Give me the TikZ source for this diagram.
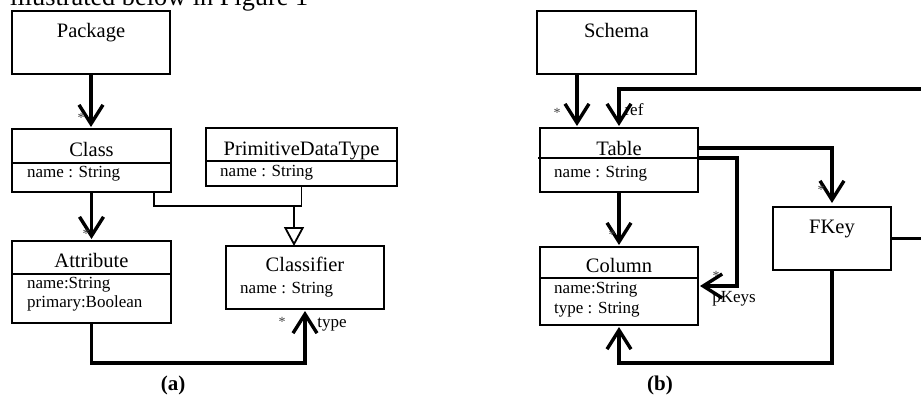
\documentclass[tikz,border=0pt]{standalone}
\usepackage{fontspec}
\setmainfont{Liberation Serif}
\usetikzlibrary{arrows.meta,calc}

% rectangle box given by its corners: name, x1, y1, x2, y2
\newcommand{\umlbox}[5]{%
  \node[box, minimum width={#4-#2}, minimum height={#5-#3}] (#1) at ({(#2+#4)/2},{(#3+#5)/2}) {};}

\begin{document}
\begin{tikzpicture}[x=1pt,y=-1pt,
  box/.style={draw,line width=1.6pt,inner sep=0pt,outer sep=0pt},
  divider/.style={line width=1.6pt},
  title/.style={inner sep=0pt,anchor=base,font=\fontsize{20.5}{24}\selectfont},
  attr/.style={inner sep=0pt,anchor=base west,font=\fontsize{17}{20}\selectfont},
  lbl/.style={inner sep=0pt,anchor=base,font=\fontsize{17}{20}\selectfont},
  mult/.style={inner sep=0pt,font=\fontsize{14}{16}\selectfont,text=black!75},
  subcap/.style={inner sep=0pt,anchor=base,font=\bfseries\fontsize{21}{24}\selectfont},
  assoc/.style={line width=3.4pt,-{Straight Barb[length=19pt,width=24pt]},shorten >=2pt},
  gen/.style={line width=1.8pt},
  gentip/.style={line width=1.8pt,-{Triangle[open,length=19pt,width=20pt,fill=white]}}]

\useasboundingbox (0,0) rectangle (921,394);
\clip (0,0) rectangle (921,394);

% running text above the figure
\node[anchor=base west,inner sep=0pt,font=\fontsize{26.3}{30}\selectfont] (intro) at (10,5.5) {illustrated below in Figure 1};

% ---------------- (a) ----------------
\umlbox{pkg}{12}{11}{170}{74}
\node[title] (pkgT) at (91,37) {Package};

\umlbox{cls}{12}{129}{171}{192}
\node[title] (clsT) at (91.5,156) {Class};
\draw[divider] (cls.west |- 0,163) -- (cls.east |- 0,163);
\node[attr] (clsA) at (27,177) {name : String};

\umlbox{pdt}{206}{128}{397}{186}
\node[title] (pdtT) at (301.5,155) {PrimitiveDataType};
\draw[divider] (pdt.west |- 0,161) -- (pdt.east |- 0,161);
\node[attr] (pdtA) at (220,176) {name : String};

\umlbox{attrb}{12}{241}{171}{323}
\node[title] (attrT) at (91.5,267) {Attribute};
\draw[divider] (attrb.west |- 0,274) -- (attrb.east |- 0,274);
\node[attr] (attrA1) at (27,288) {name:String};
\node[attr] (attrA2) at (27,307) {primary:Boolean};

\umlbox{clf}{226}{246}{384}{309}
\node[title] (clfT) at (305,271) {Classifier};
\node[attr] (clfA) at (240,293) {name : String};

% associations
\draw[assoc] (pkg.south) -- (pkg.south |- cls.north);
\node[mult] (m1) at (81,118) {*};
\draw[assoc] (cls.south) -- (cls.south |- attrb.north);
\node[mult] (m2) at (86,234) {*};
\draw[assoc] (attrb.south) -- ++(0,40) -| (clf.south);
\node[mult] (m3) at (282,322) {*};
\node[lbl] (typeL) at (332,327) {type};

% generalization
\coordinate (g1) at ($(cls.south west)+(142,0)$);
\coordinate (gj) at (294,206);
\draw[gen] (g1) |- (pdt.south |- gj) -- (pdt.south);
\draw[gentip] (gj) -- (gj |- clf.north);

\node[subcap] (capA) at (173,390) {(a)};

% ---------------- (b) ----------------
\umlbox{sch}{537}{11}{696}{74}
\node[title] (schT) at (616.5,37) {Schema};

\umlbox{tbl}{540}{128}{698}{192}
\node[title] (tblT) at (619,155) {Table};
\draw[divider] (538,158) -- (tbl.east |- 0,158);
\node[attr] (tblA) at (554,177) {name : String};

\umlbox{col}{540}{247}{698}{325}
\node[title] (colT) at (619,272) {Column};
\draw[divider] (col.west |- 0,278) -- (col.east |- 0,278);
\node[attr] (colA1) at (554,293) {name:String};
\node[attr] (colA2) at (554,313) {type : String};

\umlbox{fk}{773}{207}{891}{270}
\node[title] (fkT) at (832,233) {FKey};

% associations
\coordinate (s1) at ($(sch.south west)+(40,0)$);
\draw[assoc] (s1) -- (s1 |- tbl.north);
\node[mult] (m4) at (557,113) {*};

\node[lbl] (refL) at (634,115) {ref};
\draw[assoc] (fk.east) -- ++(40,0) coordinate (r1) -- (r1 |- 0,89) -| (tbl.north);

\draw[assoc,shorten >=4pt] ($(tbl.north east)+(0,20)$) -| (fk.north);
\node[mult] (m5) at (821,190) {*};

\draw[assoc] ($(tbl.north east)+(0,30)$) -- ++(39,0) |- (col.east);
\node[mult] (m6) at (716,276) {*};
\node[lbl] (pkL) at (734,302) {pKeys};

\draw[assoc] (tbl.south) -- (col.north);
\node[mult] (m7) at (612,235) {*};

\draw[assoc] (fk.south) -- ++(0,93) -| (col.south);

\node[subcap] (capB) at (660,390) {(b)};
\end{tikzpicture}
\end{document}
